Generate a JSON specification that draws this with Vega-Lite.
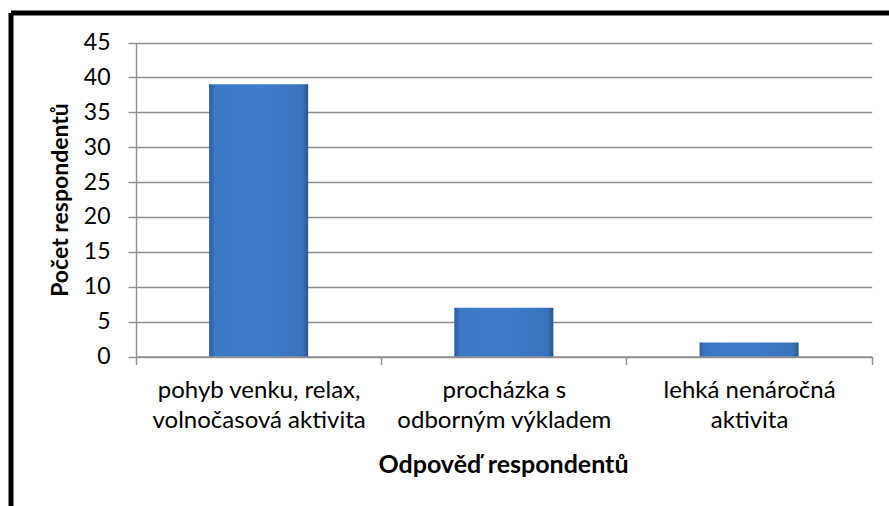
{
  "$schema": "https://vega.github.io/schema/vega-lite/v6.json",
  "autosize": "none",
  "padding": {"left": 11, "top": 13, "right": 0, "bottom": 0},
  "width": 878,
  "height": 493,
  "background": "white",
  "view": {"stroke": "black", "strokeWidth": 5, "strokeDash": [878, 1371, 493, 0], "fill": "white"},
  "data": {
    "values": [
      {"odpoved": "pohyb venku, relax,\nvolnočasová aktivita", "pocet": 39},
      {"odpoved": "procházka s\nodborným výkladem", "pocet": 7},
      {"odpoved": "lehká nenáročná\naktivita", "pocet": 2}
    ]
  },
  "mark": {
    "type": "bar",
    "width": {"band": 0.404},
    "color": {
      "gradient": "linear",
      "x1": 0, "y1": 0, "x2": 1, "y2": 0,
      "stops": [
        {"offset": 0, "color": "#2E5E9F"},
        {"offset": 0.06, "color": "#3D78C5"},
        {"offset": 0.5, "color": "#3F7DCC"},
        {"offset": 0.94, "color": "#3A72BC"},
        {"offset": 1, "color": "#2A5690"}
      ]
    }
  },
  "encoding": {
    "x": {
      "field": "odpoved",
      "type": "nominal",
      "sort": null,
      "scale": {"range": [125, 860.7], "paddingInner": 0, "paddingOuter": 0},
      "axis": {
        "offset": -149.5,
        "tickBand": "extent",
        "grid": false,
        "domainColor": "#8F8F8F",
        "domainWidth": 1.4,
        "tickColor": "#8F8F8F",
        "tickWidth": 1.4,
        "tickSize": 8,
        "labelExpr": "split(datum.label, '\\n')",
        "labelFont": "Lato",
        "labelFontSize": 24,
        "labelLineHeight": 30,
        "labelBaseline": "alphabetic",
        "labelPadding": 33,
        "labelAngle": 0,
        "labelColor": "black",
        "labelLimit": 0,
        "labelOverlap": false,
        "title": "Odpověď respondentů",
        "titleFont": "Lato",
        "titleFontSize": 25,
        "titleFontWeight": "bold",
        "titleColor": "black",
        "titleX": 492,
        "titleY": 115.5,
        "titleBaseline": "alphabetic",
        "titleAlign": "center"
      }
    },
    "y": {
      "field": "pocet",
      "type": "quantitative",
      "scale": {"domain": [0, 45], "range": [343.5, 29.5], "nice": false, "zero": true},
      "axis": {
        "values": [0, 5, 10, 15, 20, 25, 30, 35, 40, 45],
        "offset": -125,
        "grid": true,
        "gridColor": "#8F8F8F",
        "gridWidth": 1.4,
        "domainColor": "#8F8F8F",
        "domainWidth": 1.4,
        "tickColor": "#8F8F8F",
        "tickWidth": 1.4,
        "tickSize": 8,
        "labelFont": "Lato",
        "labelFontSize": 23,
        "labelColor": "black",
        "labelPadding": 18,
        "title": "Počet respondentů",
        "titleFont": "Lato",
        "titleFontSize": 23,
        "titleFontWeight": "bold",
        "titleColor": "black",
        "titleX": -64,
        "titleY": 186.5
      }
    }
  },
  "config": {"font": "Lato"}
}
